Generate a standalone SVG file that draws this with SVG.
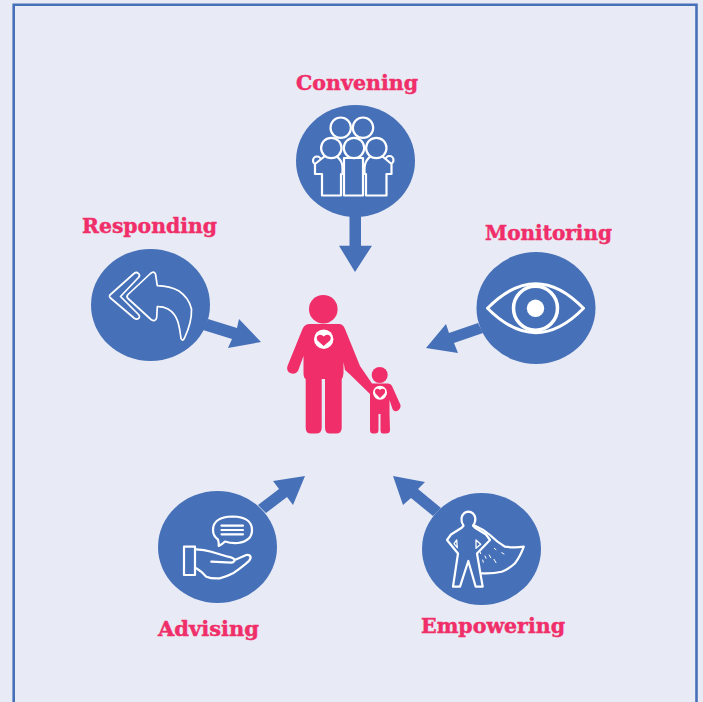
<svg xmlns="http://www.w3.org/2000/svg" width="703" height="702" viewBox="0 0 703 702">
<style>
.disc{fill:#4671b8}
.arr{fill:#4671b8}
.ln{fill:none;stroke:#fff;stroke-width:2.2;stroke-linejoin:round;stroke-linecap:round}
.lnf{fill:#4671b8;stroke:#fff;stroke-width:2.2;stroke-linejoin:round}
.lab{font-family:"DejaVu Serif","Liberation Serif",serif;font-weight:700;font-size:21px;fill:#f02e69;stroke:#f02e69;stroke-width:.45}
.pk{fill:#f02e69}
</style>
<rect width="703" height="702" fill="#e8eaf5"/>
<path d="M13.7 702V4.7H696.5V702" fill="none" stroke="#4671b8" stroke-width="2.6"/>
<g id="connectors">
<path class="arr" d="M349.5 215H361V245.7H372L355 272L339 245.7H349.5Z"/>
<path class="arr" d="M208 319L237 328L239 319L261 342L228 348L232 339L203 330Z"/>
<path class="arr" d="M478 323L449 333L446 324L426 348L458 353L454 343L483 333Z"/>
<path class="arr" d="M258 505L279 489L273 481L305 476L293 505L287 497L266 513Z"/>
<path class="arr" d="M441 508L418 489L425 482L393 476L403 505L411 498L433 516Z"/>
</g>
<g id="convening">
<ellipse class="disc" cx="355.5" cy="161" rx="59.5" ry="56"/>
<circle class="lnf" cx="340.7" cy="127.7" r="10.2"/>
<circle class="lnf" cx="363" cy="127.7" r="10.2"/>
<circle class="lnf" cx="317" cy="160.5" r="4"/>
<circle class="lnf" cx="389.5" cy="160" r="4"/>
<path class="lnf" d="M344 195.5V158H363V195.5Z"/>
<path class="lnf" d="M322 195.5V174H315V164L325 156H336Q342.5 160 342.5 168V174H341V195.5Z"/>
<path class="lnf" d="M366 195.5V174H364.5V168Q365 160 371 156H382L391.5 164V174H386.5V195.5Z"/>
<circle class="lnf" cx="331.3" cy="148" r="10.2"/>
<circle class="lnf" cx="354" cy="148" r="10.2"/>
<circle class="lnf" cx="376.3" cy="148" r="10.2"/>
<text class="lab" x="296" y="89.5" textLength="122" lengthAdjust="spacingAndGlyphs">Convening</text>
</g>
<g id="responding">
<ellipse class="disc" cx="150.5" cy="305" rx="59.5" ry="56"/>
<path class="ln" style="stroke-width:1.7" d="M134 273.5Q136.5 271.5 138.5 273.5Q140.5 275.5 138.5 277.5L120.5 296.5L138.5 314.5Q140.5 317 138.5 318.5Q136.5 320 134 318L110.5 298Q108.5 296 110.5 294.5Z"/>
<path class="ln" style="stroke-width:1.7" d="M150.5 273.5Q154 270.5 155.5 274L157.3 285.7Q170 286 179 291Q189 298 191.5 309Q192 322 184.5 338Q182.5 342 181 338.5Q180 329 178 322Q175 313 168 309Q163 306.5 157.3 306.7L156.7 317.5Q155.5 322.5 151 319.5L128 298.5Q126 296.5 128 294.5Z"/>
<text class="lab" x="82" y="233" textLength="135" lengthAdjust="spacingAndGlyphs">Responding</text>
</g>
<g id="monitoring">
<ellipse class="disc" cx="536" cy="308" rx="59.5" ry="56"/>
<path class="ln" style="stroke-width:3" d="M487.5 308.3Q536 259 583.5 308.3Q536 357 487.5 308.3Z"/>
<circle class="ln" style="stroke-width:3.5" cx="535.5" cy="308.3" r="22"/>
<circle cx="535.5" cy="308.3" r="8.7" fill="#fff"/>
<text class="lab" x="485" y="239.5" textLength="127" lengthAdjust="spacingAndGlyphs">Monitoring</text>
</g>
<g id="family">
<circle class="pk" cx="323.3" cy="309.2" r="14.3"/>
<path class="pk" d="M310 324H339Q343 324 345 329L360 366L372 383.5H388Q391 383.5 392 386L400.5 405Q401 409 397 411Q394 412 392.5 409L389.5 400V413.5L390 430Q390 433.5 386 433.5H383Q380.5 433.5 380.5 430V414H378.5V430Q378.5 433.5 375 433.5H373Q370 433.5 370 430V394L350 374.5L345 370L343.5 362V373Q343 378 341.7 379V428Q341.7 433.5 336 433.5H330Q325 433.5 325 428V379H321.7V428Q321.7 433.5 316 433.5H311Q305.7 433.5 305.7 428V379Q303.5 378 303.5 373V356L298 371Q295.5 375 290 373Q286 370.500 287.500 366L302.500 329Q304.500 324 310 324Z"/>
<circle class="pk" cx="379.7" cy="375" r="8"/>
<circle cx="323.7" cy="339.2" r="9.7" fill="#fff"/>
<path class="pk" d="M323.7 346L317.5 340.5Q315.5 336.5 318.8 335Q321.5 334 323.7 336.5Q326 334 328.8 335Q332 336.5 330 340.5Z"/>
<circle cx="380" cy="392.7" r="7" fill="#fff"/>
<path class="pk" d="M380 398L375.5 393.5Q374 390.5 376.3 389Q378.5 388.2 380 390Q381.7 388.2 384 389Q386 390.5 384.5 393.5Z"/>
</g>
<g id="advising">
<ellipse class="disc" cx="217.5" cy="547" rx="59.5" ry="56"/>
<path class="ln" d="M218.7 546Q222 544.5 225 541.5Q231 543.5 238 543Q252 541 252 530Q252 517 232.5 516.5Q213 517 213 530Q213 536 218 539.5Q219 543 218.7 546Z"/>
<path class="ln" d="M221.5 525.7H243M221.5 530H243M221.5 534.3H243"/>
<rect class="ln" x="184" y="546.7" width="11" height="28.3"/>
<path class="ln" d="M196.3 549.3Q204 549.5 211.3 551.7L228 556.7Q234 558 234.7 560Q234 562.5 231.3 562.7L211.3 561.7M234.7 560L246.3 555Q250 554.5 250.7 557.3Q250 561 246.3 563.3Q240 568.5 233 573.3Q226 577 219.7 578.3Q212 579 206.3 576.7Q201 571 196.3 568.3"/>
<text class="lab" x="158" y="635.5" textLength="101" lengthAdjust="spacingAndGlyphs">Advising</text>
</g>
<g id="empowering">
<ellipse class="disc" cx="481.5" cy="549" rx="59.5" ry="56"/>
<path class="ln" d="M463.5 525.7Q461 522 461.5 518Q463 512 468.3 511.7Q474 512 475.3 518Q475.8 522 473 525.7L475 527.7L486 534.5L490 540L477 553.5L482.7 586.7H475.7L468.3 561L460 586.7H453L458 553.5L447 540L451 534.5L461.7 527.7Z"/>
<path class="ln" style="stroke-width:1.3" d="M456.7 540L454 543.7L457.3 547.7ZM476 540L480.7 544.3L476 548.3Z"/>
<path class="ln" d="M475 525.7Q483 529 490 535Q497 542 505 546.7Q514 548 523.8 546.7Q520 557 515 563.3Q509 569 501.7 571.7Q492 574 481.7 573.3"/>
<path class="ln" style="stroke-width:1" d="M480 551.7L480.7 553.7M494.3 548.3L496 549.7M501.7 552.7L504 554M489.3 555L490.7 557.7M485 556L486 558.3M494 559.3L496 562.7M482.7 560L483.3 562.3"/>
<text class="lab" x="421" y="633" textLength="144" lengthAdjust="spacingAndGlyphs">Empowering</text>
</g>
</svg>
